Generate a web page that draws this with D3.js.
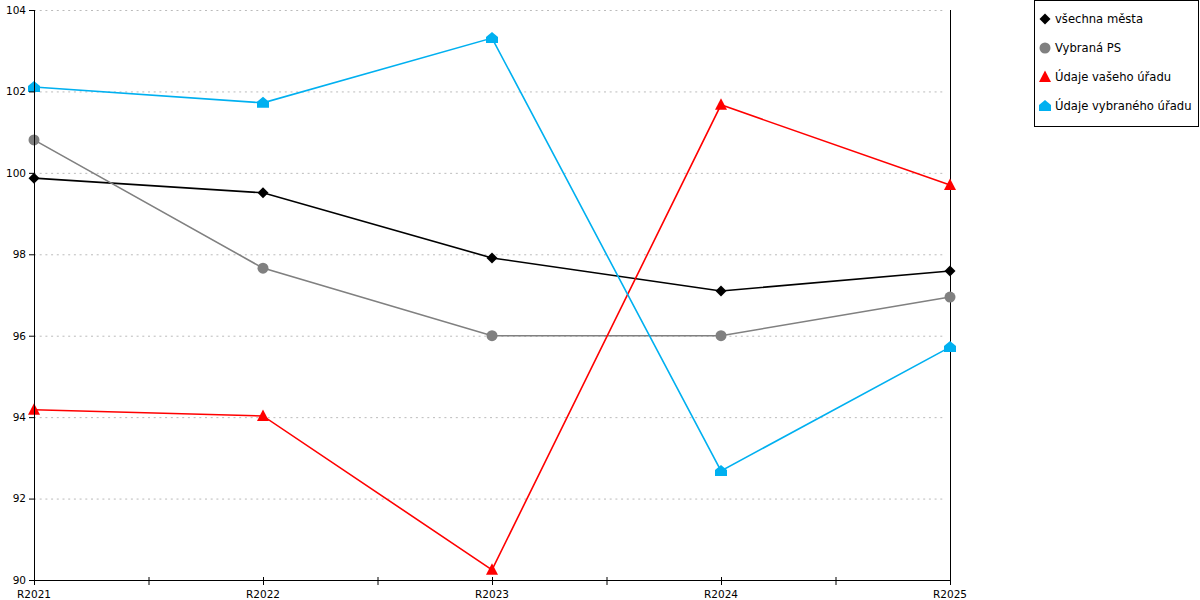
<!DOCTYPE html>
<html>
<head>
<meta charset="utf-8">
<script src="https://cdn.jsdelivr.net/npm/d3@7"></script>
<style>
  body { margin: 0; background: #fff; }
  svg text { font-family: "DejaVu Sans", Verdana, sans-serif; }
</style>
</head>
<body>
<svg id="chart" width="1200" height="600"></svg>
<script>
var years = ['R2021', 'R2022', 'R2023', 'R2024', 'R2025'];
var yTicks = [90, 92, 94, 96, 98, 100, 102, 104];

var vsechnaMesta = [99.87, 99.51, 97.91, 97.10, 97.59];
var vybranaPS = [100.81, 97.66, 96.00, 96.00, 96.95];
var vasehoUradu = [94.18, 94.03, 90.25, 101.67, 99.70];
var vybranehoUradu = [102.11, 101.72, 103.31, 92.68, 95.72];

var seriesNames = ['všechna města', 'Vybraná PS', 'Údaje vašeho úřadu', 'Údaje vybraného úřadu'];
var seriesColors = ['#000000', '#808080', '#ff0000', '#00b0f0'];
var seriesShapes = ['diamond', 'circle', 'triangle', 'house'];
var seriesValues = [vsechnaMesta, vybranaPS, vasehoUradu, vybranehoUradu];

var margin = { top: 10, left: 34, right: 250, bottom: 20 };
var width = 1200 - margin.left - margin.right;   // 916
var height = 600 - margin.top - margin.bottom;   // 570

var svg = d3.select('#chart');
var chart = svg.append('g')
  .attr('transform', `translate(${margin.left}, ${margin.top})`);

var x = d3.scalePoint()
  .domain(years)
  .range([0, width]);

var y = d3.scaleLinear()
  .domain([90, 104])
  .range([height, 0]);

// grid
chart.append('g')
  .selectAll('line')
  .data(yTicks.slice(1))
  .enter().append('line')
  .attr('x1', 0)
  .attr('x2', width - 4)
  .attr('y1', d => y(d) + 0.5)
  .attr('y2', d => y(d) + 0.5)
  .attr('stroke', '#bbb')
  .attr('stroke-dasharray', '2,3.7');

// right axis line
chart.append('line')
  .attr('x1', width + 0.5).attr('x2', width + 0.5)
  .attr('y1', 0).attr('y2', height)
  .attr('stroke', '#000');

function markerPath(shape) {
  if (shape === 'diamond') return 'M0,-5.5L5.5,0L0,5.5L-5.5,0Z';
  if (shape === 'circle') return d3.symbol(d3.symbolCircle, 95)();
  if (shape === 'triangle') return 'M0,-6.5L6,5L-6,5Z';
  return 'M0,-6L6,-1L6,5L-6,5L-6,-1Z';
}

seriesValues.forEach(function (vals, i) {
  var data = vals.map((v, j) => ({ year: years[j], value: v }));
  var line = d3.line()
    .x(d => x(d.year))
    .y(d => y(d.value));
  chart.append('path')
    .datum(data)
    .attr('fill', 'none')
    .attr('stroke', seriesColors[i])
    .attr('stroke-width', 1.6)
    .attr('d', line);
  chart.selectAll('.m' + i)
    .data(data)
    .enter().append('path')
    .attr('class', 'm' + i)
    .attr('transform', d => `translate(${x(d.year)}, ${y(d.value)})`)
    .attr('d', markerPath(seriesShapes[i]))
    .attr('fill', seriesColors[i]);
});

// y axis
var yAxis = d3.axisLeft(y)
  .tickValues(yTicks)
  .tickSize(5)
  .tickPadding(3);
var gy = chart.append('g').call(yAxis);
gy.select('.domain').attr('d', `M0.5,0V${height}`);
gy.selectAll('text').style('font-size', '10.5px').attr('fill', '#000');

// x axis with minor ticks
var gx = chart.append('g')
  .attr('transform', `translate(0, ${height})`);
gx.append('line')
  .attr('x1', 0).attr('x2', width)
  .attr('y1', 0.5).attr('y2', 0.5)
  .attr('stroke', '#000');
var step = x.step();
var tickPos = [];
years.forEach(function (yr, j) {
  tickPos.push(x(yr));
  if (j < years.length - 1) tickPos.push(x(yr) + step / 2);
});
gx.selectAll('.xt')
  .data(tickPos)
  .enter().append('line')
  .attr('class', 'xt')
  .attr('x1', d => d + 0.5).attr('x2', d => d + 0.5)
  .attr('y1', -3).attr('y2', 5)
  .attr('stroke', '#000');
gx.selectAll('.xl')
  .data(years)
  .enter().append('text')
  .attr('class', 'xl')
  .attr('x', d => x(d))
  .attr('y', 18)
  .attr('text-anchor', 'middle')
  .style('font-size', '10.5px')
  .text(d => d);

// legend
var legend = svg.append('g');
legend.append('rect')
  .attr('x', 1034.5).attr('y', 0.5)
  .attr('width', 164).attr('height', 126)
  .attr('fill', '#fff')
  .attr('stroke', '#000');
var items = legend.selectAll('.li')
  .data(seriesNames)
  .enter().append('g')
  .attr('class', 'li')
  .attr('transform', (d, i) => `translate(1045, ${19 + i * 29})`);
items.append('path')
  .attr('d', (d, i) => markerPath(seriesShapes[i]))
  .attr('fill', (d, i) => seriesColors[i]);
items.append('text')
  .attr('x', 10)
  .attr('y', 4)
  .style('font-size', '11.6px')
  .text(d => d);
</script>
</body>
</html>
